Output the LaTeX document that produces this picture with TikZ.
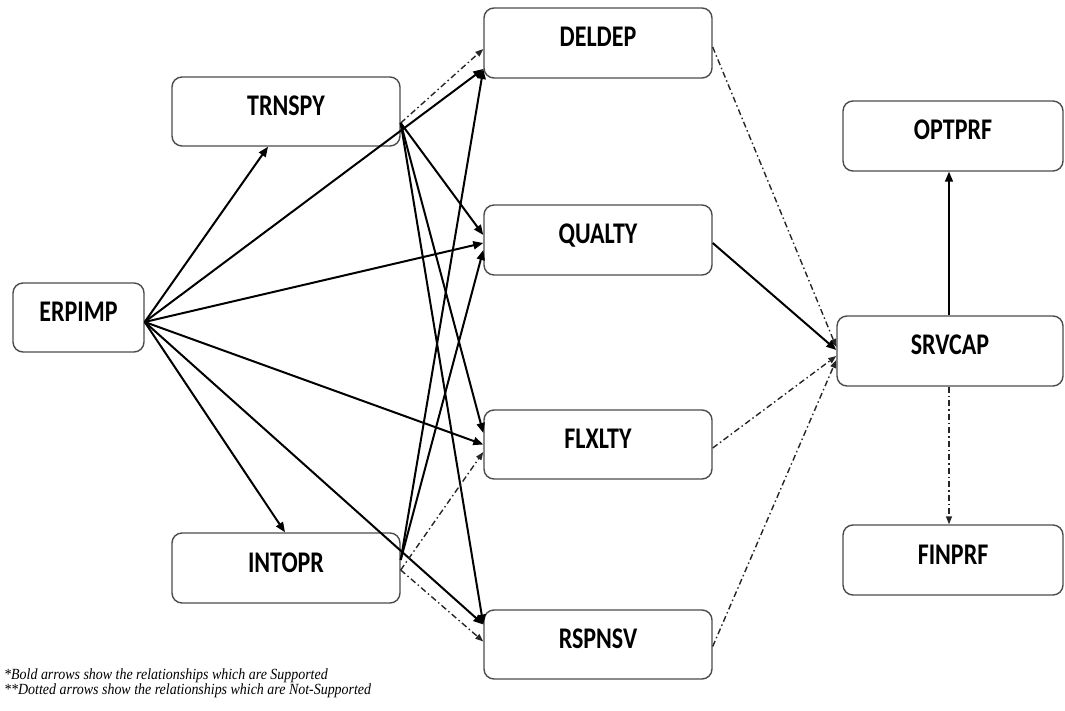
\documentclass[tikz,border=0pt]{standalone}
\usepackage{fontspec}
\setmainfont{Liberation Serif}
\newfontfamily\boxfont[FakeStretch=0.8]{Carlito}
\newfontfamily\notefont[FakeStretch=0.9]{Liberation Serif}
\usetikzlibrary{arrows.meta}

\begin{document}
\begin{tikzpicture}[x=1pt,y=1pt,
  box/.style={draw=black!70, line width=1.4pt, rounded corners=10pt,
    minimum width=228pt, minimum height=70pt, inner sep=0pt,
    font=\boxfont\bfseries\fontsize{30}{32}\selectfont,
    text height=18pt, text depth=10pt},
  sup/.style={line width=2pt, -{Triangle[length=10pt,width=8pt]}},
  nsup/.style={line width=1.4pt, black!85,
    dash pattern=on 6pt off 3pt on 1.5pt off 3pt,
    -{Triangle[length=8pt,width=6pt]}},
  note/.style={anchor=base west, inner sep=0pt,
    font=\notefont\itshape\fontsize{15.5}{17}\selectfont}]

\useasboundingbox (0,0) rectangle (1065,710);

% constructs
\node[box, minimum width=131pt, minimum height=69pt] (erp) at (78.5,392.5) {ERPIMP};
\node[box, minimum height=69pt] (trn) at (286,598.5) {TRNSPY};
\node[box] (int) at (286,142) {INTOPR};
\node[box] (del) at (598,667) {DELDEP};
\node[box] (qua) at (598,470) {QUALTY};
\node[box, minimum height=69pt] (flx) at (598,265.5) {FLXLTY};
\node[box, minimum height=69pt] (rsp) at (598,65.5) {RSPNSV};
\node[box, minimum width=220pt] (opt) at (953,574) {OPTPRF};
\node[box, minimum width=226pt] (srv) at (950,359) {SRVCAP};
\node[box, minimum width=220pt] (fin) at (953,150) {FINPRF};

% paths from ERPIMP
\draw[sup] ([yshift=-4.5pt]erp.east) -- ([xshift=-18pt]trn.south);
\draw[sup] ([yshift=-4.5pt]erp.east) -- ([xshift=-1pt]int.north);
\draw[sup] ([yshift=-4.5pt]erp.east) -- ([yshift=-26pt]del.west);
\draw[sup] ([yshift=-4.5pt]erp.east) -- ([yshift=-3pt]qua.west);
\draw[sup] ([yshift=-4.5pt]erp.east) -- (flx.west);
\draw[sup] ([yshift=-4.5pt]erp.east) -- ([yshift=20pt]rsp.west);

% paths from TRNSPY
\draw[nsup] ([yshift=-11.5pt]trn.east) -- ([yshift=-6pt]del.west);
\draw[sup] ([yshift=-11.5pt]trn.east) -- ([yshift=5pt]qua.west);
\draw[sup] ([yshift=-11.5pt]trn.east) -- ([yshift=11.5pt]flx.west);
\draw[sup] ([yshift=-11.5pt]trn.east) -- ([yshift=20pt]rsp.west);

% paths from INTOPR
\draw[sup] ([yshift=8pt]int.east) -- ([yshift=-26pt]del.west);
\draw[sup] ([yshift=8pt]int.east) -- ([yshift=-10pt]qua.west);
\draw[nsup] ([yshift=-2pt]int.east) -- ([yshift=-7.5pt]flx.west);
\draw[nsup] ([yshift=-2pt]int.east) -- ([yshift=3pt]rsp.west);

% paths into SRVCAP
\draw[nsup] ([yshift=-4pt]del.east) -- ([yshift=4pt]srv.west);
\draw[sup] ([yshift=-3pt]qua.east) -- ([yshift=1pt]srv.west);
\draw[nsup] ([yshift=-3.5pt]flx.east) -- ([yshift=-5pt]srv.west);
\draw[nsup] ([yshift=-2pt]rsp.east) -- ([yshift=-9pt]srv.west);

% outcomes of SRVCAP
\draw[sup, line width=1.6pt] ([xshift=-1pt]srv.north) -- ([xshift=-1pt]srv.north |- opt.south);
\draw[nsup] ([xshift=-1pt]srv.south) -- ([xshift=-1pt]srv.south |- fin.north);

% legend
\node[note] (n1) at (4,31) {*Bold arrows show the relationships which are Supported};
\node[note] (n2) at (4,16) {**Dotted arrows show the relationships which are Not-Supported};
\end{tikzpicture}
\end{document}
